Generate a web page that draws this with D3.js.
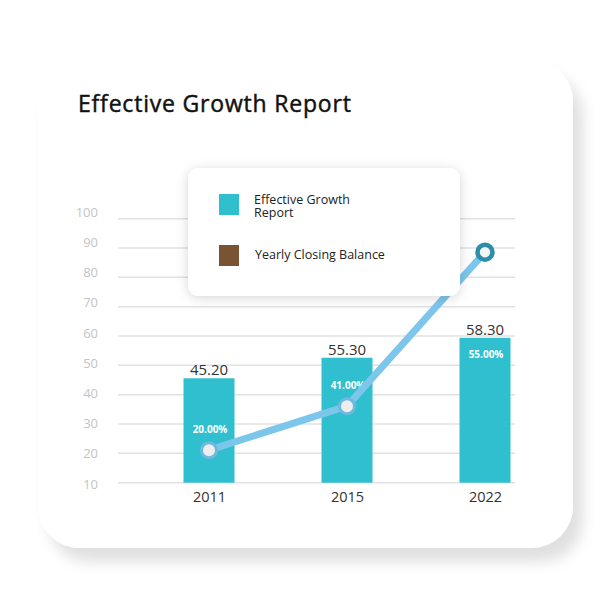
<!DOCTYPE html>
<html>
<head>
<meta charset="utf-8">
<script src="https://cdn.jsdelivr.net/npm/d3@7"></script>
<style>
  html, body { margin: 0; padding: 0; background: #ffffff; }
  svg { display: block; }
  text { font-family: "Open Sans", "Noto Sans", sans-serif; }
</style>
</head>
<body>
<svg id="chart" width="600" height="610"></svg>
<script>
// ---- data ----
const years = ["2011", "2015", "2022"];
const barValues = [45.6, 52.6, 59.4];
const barLabels = ["45.20", "55.30", "58.30"];
const lineValues = [21.1, 36.1, 88.6];
const pctLabels = ["20.00%", "41.00%", "55.00%"];
const yTicks = [10, 20, 30, 40, 50, 60, 70, 80, 90, 100];
const legendNames = ["Effective Growth Report", "Yearly Closing Balance"];
const legendColors = ["#30bfcf", "#7a5332"];
const title = "Effective Growth Report";

// ---- setup ----
const svg = d3.select("#chart");
const defs = svg.append("defs");

const cardShadow = defs.append("filter").attr("id", "cardShadow")
  .attr("x", "-10%").attr("y", "-10%").attr("width", "125%").attr("height", "125%");
cardShadow.append("feDropShadow").attr("dx", 10).attr("dy", 14)
  .attr("stdDeviation", 7).attr("flood-color", "#000").attr("flood-opacity", 0.12);

const legShadow = defs.append("filter").attr("id", "legShadow")
  .attr("x", "-20%").attr("y", "-30%").attr("width", "140%").attr("height", "160%");
legShadow.append("feDropShadow").attr("dx", 0).attr("dy", 2)
  .attr("stdDeviation", 6).attr("flood-color", "#000").attr("flood-opacity", 0.16);

// card
svg.append("rect")
  .attr("x", 38).attr("y", 60).attr("width", 535).attr("height", 488)
  .attr("rx", 42).attr("ry", 42)
  .attr("fill", "#ffffff")
  .attr("filter", "url(#cardShadow)");

// title
svg.append("text")
  .attr("x", 78).attr("y", 111.5)
  .attr("font-size", 23).attr("font-weight", 400).attr("letter-spacing", 0.8)
  .attr("fill", "#111").attr("stroke", "#111").attr("stroke-width", 0.45)
  .text(title);

// scales
const y = d3.scaleLinear().domain([10, 100]).range([482.7, 218.7]);
const yLab = d3.scaleLinear().domain([10, 100]).range([484, 212]);
const x = d3.scalePoint().domain(years).range([209, 485]);
const xLeft = 118, xRight = 515;
const barW = 51;

// grid
svg.append("g").selectAll("line").data(yTicks).join("line")
  .attr("x1", xLeft).attr("x2", xRight)
  .attr("y1", d => y(d)).attr("y2", d => y(d))
  .attr("stroke", "#e2e2e2").attr("stroke-width", 1.5);

// y axis labels
const yAxis = svg.append("g").attr("transform", "translate(98,0)")
  .call(d3.axisLeft(yLab).tickValues(yTicks).tickSize(0).tickPadding(0));
yAxis.select(".domain").remove();
yAxis.selectAll("text")
  .attr("font-family", "'Open Sans', sans-serif")
  .attr("font-size", 13).attr("fill", "#c4c4c4");

// bars
const bars = years.map((yr, i) => ({ yr, v: barValues[i], lab: barLabels[i], lv: lineValues[i], pct: pctLabels[i] }));
svg.append("g").selectAll("rect").data(bars).join("rect")
  .attr("x", d => x(d.yr) - barW / 2).attr("width", barW)
  .attr("y", d => y(d.v)).attr("height", d => y(10) - y(d.v))
  .attr("fill", "#30bfcf");

// bar value labels
svg.append("g").selectAll("text").data(bars).join("text")
  .attr("x", d => x(d.yr)).attr("y", d => y(d.v) - 3)
  .attr("text-anchor", "middle").attr("font-size", 15).attr("font-weight", 500)
  .attr("fill", "#333").text(d => d.lab);

// x axis labels
const xAxis = svg.append("g").attr("transform", `translate(0,${y(10)})`)
  .call(d3.axisBottom(x).tickSize(0).tickPadding(9));
xAxis.select(".domain").remove();
xAxis.selectAll("text")
  .attr("font-family", "'Open Sans', sans-serif")
  .attr("font-size", 14.5).attr("font-weight", 500).attr("fill", "#333");

// percent labels
svg.append("g").selectAll("text").data(bars).join("text")
  .attr("x", d => x(d.yr) + 1)
  .attr("y", d => (y(d.lv) < y(d.v)) ? y(d.v) + 20 : y(d.lv) - 17)
  .attr("text-anchor", "middle").attr("font-size", 10).attr("font-weight", 700)
  .attr("fill", "#ffffff").text(d => d.pct);

// line
const line = d3.line().x(d => x(d.yr)).y(d => y(d.lv));
svg.append("path").datum(bars)
  .attr("d", line).attr("fill", "none")
  .attr("stroke", "#7cc6ec").attr("stroke-width", 7)
  .attr("stroke-linecap", "round").attr("stroke-linejoin", "round");

// markers
svg.append("g").selectAll("circle").data(bars).join("circle")
  .attr("cx", d => x(d.yr)).attr("cy", d => y(d.lv))
  .attr("r", 7.5)
  .attr("fill", (d, i) => i === bars.length - 1 ? "#f4f4f4" : "#eeeeee")
  .attr("stroke", (d, i) => i === bars.length - 1 ? "#2c8ea8" : "#6cb9e2")
  .attr("stroke-width", (d, i) => i === bars.length - 1 ? 4.5 : 3);

// legend box
const leg = svg.append("g");
leg.append("rect")
  .attr("x", 188).attr("y", 168).attr("width", 272).attr("height", 128)
  .attr("rx", 11).attr("fill", "#ffffff").attr("filter", "url(#legShadow)");
const legItems = leg.selectAll("g.item").data(legendNames).join("g").attr("class", "item")
  .attr("transform", (d, i) => `translate(219,${194 + i * 51})`);
legItems.append("rect").attr("width", 20).attr("height", 21)
  .attr("fill", (d, i) => legendColors[i]);
legItems.each(function(d, i) {
  const g = d3.select(this);
  const t = g.append("text").attr("font-size", 12.5).attr("fill", "#222");
  if (i === 0) {
    const words = d.split(" ");
    t.append("tspan").attr("x", 35).attr("y", 9.5).text(words.slice(0, 2).join(" "));
    t.append("tspan").attr("x", 35).attr("y", 22.5).text(words.slice(2).join(" "));
  } else {
    t.append("tspan").attr("x", 36).attr("y", 14).text(d);
  }
});
</script>
</body>
</html>
